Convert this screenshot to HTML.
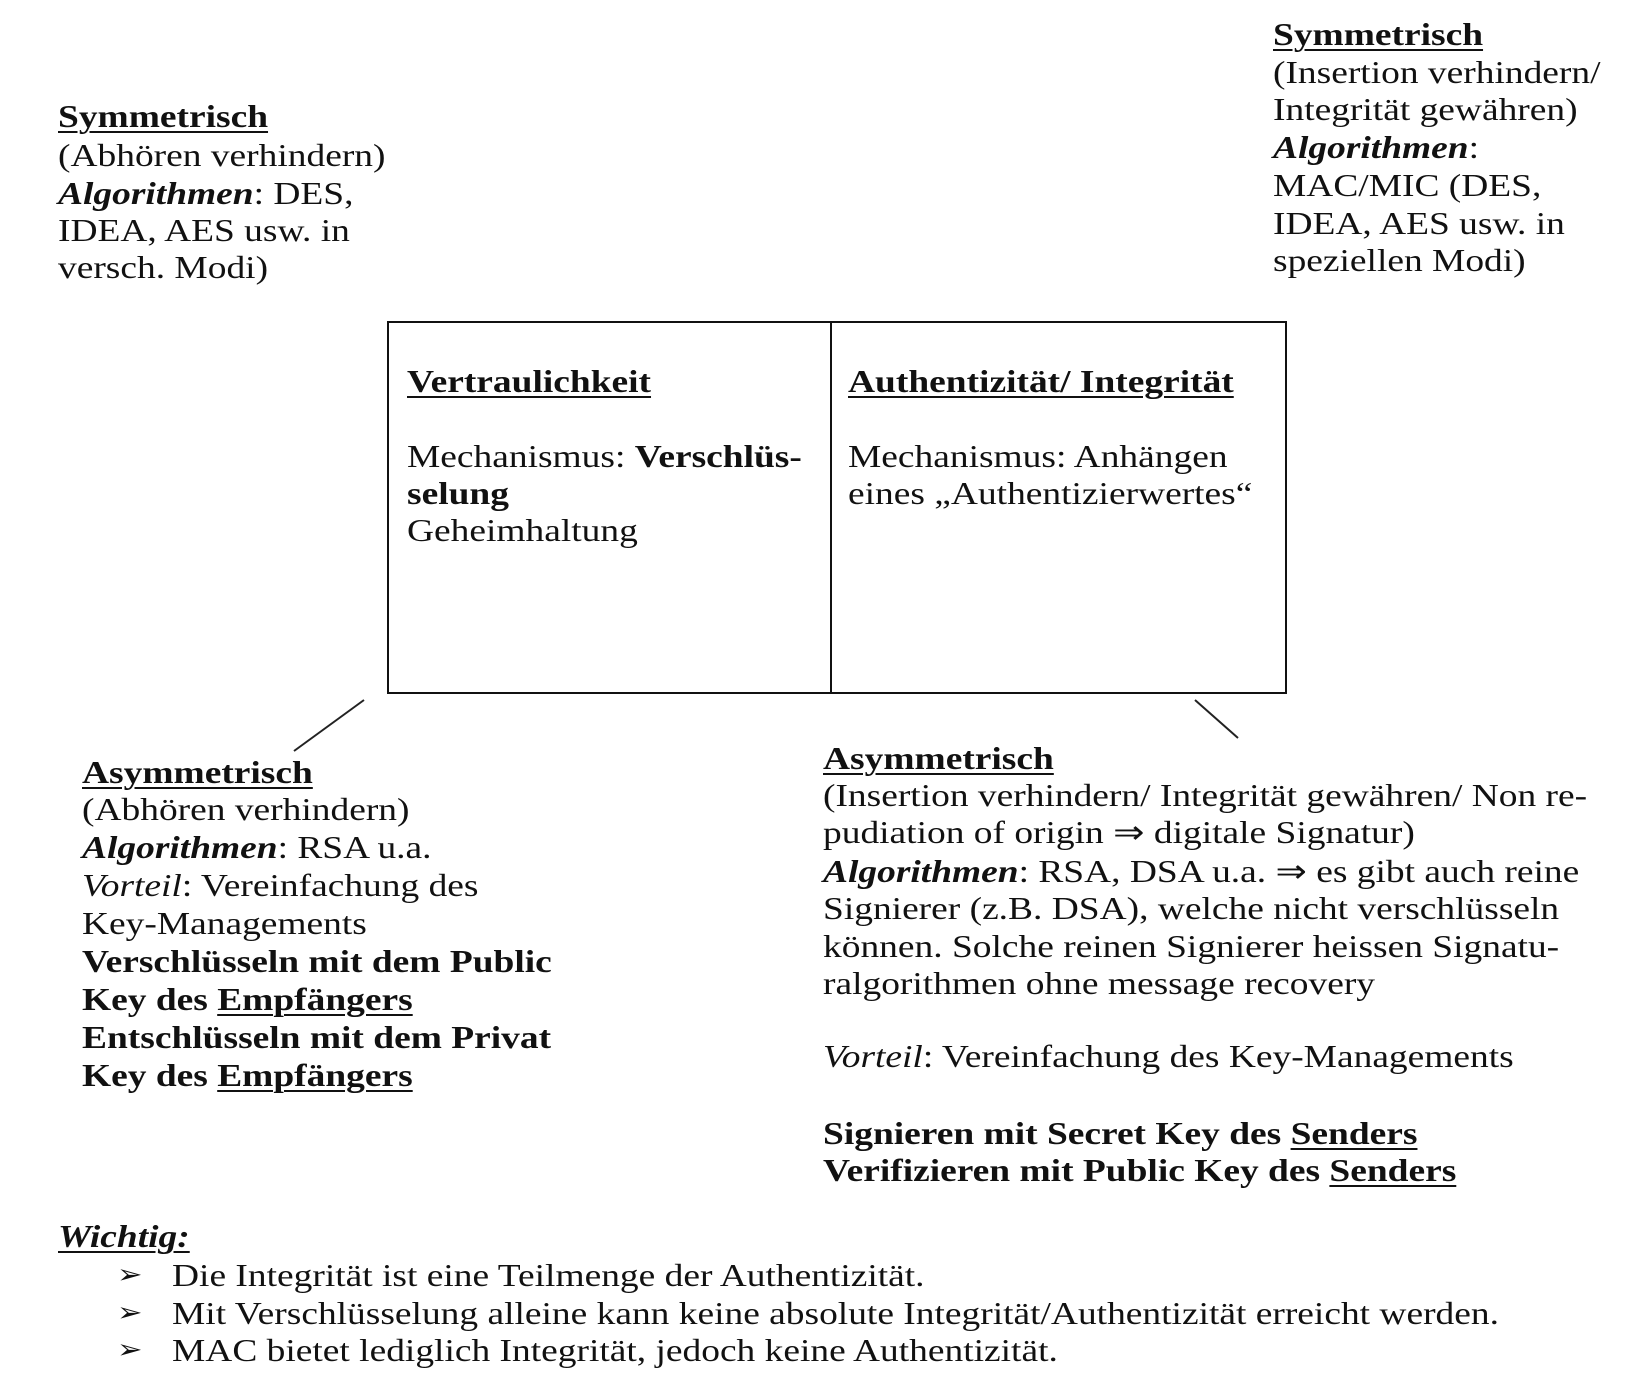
<!DOCTYPE html>
<html><head><meta charset="utf-8"><style>
body{margin:0;background:#fff;}
#c{position:relative;width:1650px;height:1376px;overflow:hidden;font-family:"Liberation Serif",serif;font-size:32px;color:#111;}
.l{position:absolute;white-space:nowrap;height:38px;line-height:38px;transform:scaleX(1.17);transform-origin:0 50%;}
u{text-decoration:underline;text-decoration-thickness:2px;text-underline-offset:4px;}
</style></head><body><div id="c">
<svg width="1650" height="1376" style="position:absolute;left:0;top:0">
<rect x="388" y="322" width="898" height="371" fill="none" stroke="#111" stroke-width="2"/>
<line x1="831" y1="322" x2="831" y2="693" stroke="#111" stroke-width="2"/>
<line x1="364" y1="700" x2="294" y2="751" stroke="#222" stroke-width="2"/>
<line x1="1195" y1="700" x2="1238" y2="738" stroke="#222" stroke-width="2"/>
</svg>
<!-- TL -->
<div class="l" style="left:58px;top:97px"><b><u>Symmetrisch</u></b></div>
<div class="l" style="left:58px;top:136px">(Abhören verhindern)</div>
<div class="l" style="left:58px;top:174px"><b><i>Algorithmen</i></b>: DES,</div>
<div class="l" style="left:58px;top:211px">IDEA, AES usw. in</div>
<div class="l" style="left:58px;top:248px">versch. Modi)</div>
<!-- TR -->
<div class="l" style="left:1273px;top:15px"><b><u>Symmetrisch</u></b></div>
<div class="l" style="left:1273px;top:53px">(Insertion verhindern/</div>
<div class="l" style="left:1273px;top:90px">Integrität gewähren)</div>
<div class="l" style="left:1273px;top:128px"><b><i>Algorithmen</i></b>:</div>
<div class="l" style="left:1273px;top:166px">MAC/MIC (DES,</div>
<div class="l" style="left:1273px;top:204px">IDEA, AES usw. in</div>
<div class="l" style="left:1273px;top:241px">speziellen Modi)</div>
<!-- box -->
<div class="l" style="left:407px;top:362px"><b><u>Vertraulichkeit</u></b></div>
<div class="l" style="left:407px;top:437px">Mechanismus: <b>Verschlüs-</b></div>
<div class="l" style="left:407px;top:474px"><b>selung</b></div>
<div class="l" style="left:407px;top:511px">Geheimhaltung</div>
<div class="l" style="left:848px;top:362px"><b><u>Authentizität/ Integrität</u></b></div>
<div class="l" style="left:848px;top:437px">Mechanismus: Anhängen</div>
<div class="l" style="left:848px;top:474px">eines „Authentizierwertes“</div>
<!-- BL -->
<div class="l" style="left:82px;top:753px"><b><u>Asymmetrisch</u></b></div>
<div class="l" style="left:82px;top:790px">(Abhören verhindern)</div>
<div class="l" style="left:82px;top:828px"><b><i>Algorithmen</i></b>: RSA u.a.</div>
<div class="l" style="left:82px;top:866px"><i>Vorteil</i>: Vereinfachung des</div>
<div class="l" style="left:82px;top:904px">Key-Managements</div>
<div class="l" style="left:82px;top:942px"><b>Verschlüsseln mit dem Public</b></div>
<div class="l" style="left:82px;top:980px"><b>Key des <u>Empfängers</u></b></div>
<div class="l" style="left:82px;top:1018px"><b>Entschlüsseln mit dem Privat</b></div>
<div class="l" style="left:82px;top:1056px"><b>Key des <u>Empfängers</u></b></div>
<!-- BR -->
<div class="l" style="left:823px;top:739px"><b><u>Asymmetrisch</u></b></div>
<div class="l" style="left:823px;top:776px">(Insertion verhindern/ Integrität gewähren/ Non re-</div>
<div class="l" style="left:823px;top:813px">pudiation of origin ⇒ digitale Signatur)</div>
<div class="l" style="left:823px;top:852px"><b><i>Algorithmen</i></b>: RSA, DSA u.a. ⇒ es gibt auch reine</div>
<div class="l" style="left:823px;top:889px">Signierer (z.B. DSA), welche nicht verschlüsseln</div>
<div class="l" style="left:823px;top:927px">können. Solche reinen Signierer heissen Signatu-</div>
<div class="l" style="left:823px;top:964px">ralgorithmen ohne message recovery</div>
<div class="l" style="left:823px;top:1037px"><i>Vorteil</i>: Vereinfachung des Key-Managements</div>
<div class="l" style="left:823px;top:1114px"><b>Signieren mit Secret Key des <u>Senders</u></b></div>
<div class="l" style="left:823px;top:1151px"><b>Verifizieren mit Public Key des <u>Senders</u></b></div>
<!-- Wichtig -->
<div class="l" style="left:58px;top:1217px"><b><i><u>Wichtig:</u></i></b></div>
<div class="l" style="left:117px;top:1256px;font-size:26px">➢</div>
<div class="l" style="left:172px;top:1256px">Die Integrität ist eine Teilmenge der Authentizität.</div>
<div class="l" style="left:117px;top:1294px;font-size:26px">➢</div>
<div class="l" style="left:172px;top:1294px">Mit Verschlüsselung alleine kann keine absolute Integrität/Authentizität erreicht werden.</div>
<div class="l" style="left:117px;top:1331px;font-size:26px">➢</div>
<div class="l" style="left:172px;top:1331px">MAC bietet lediglich Integrität, jedoch keine Authentizität.</div>
</div></body></html>
